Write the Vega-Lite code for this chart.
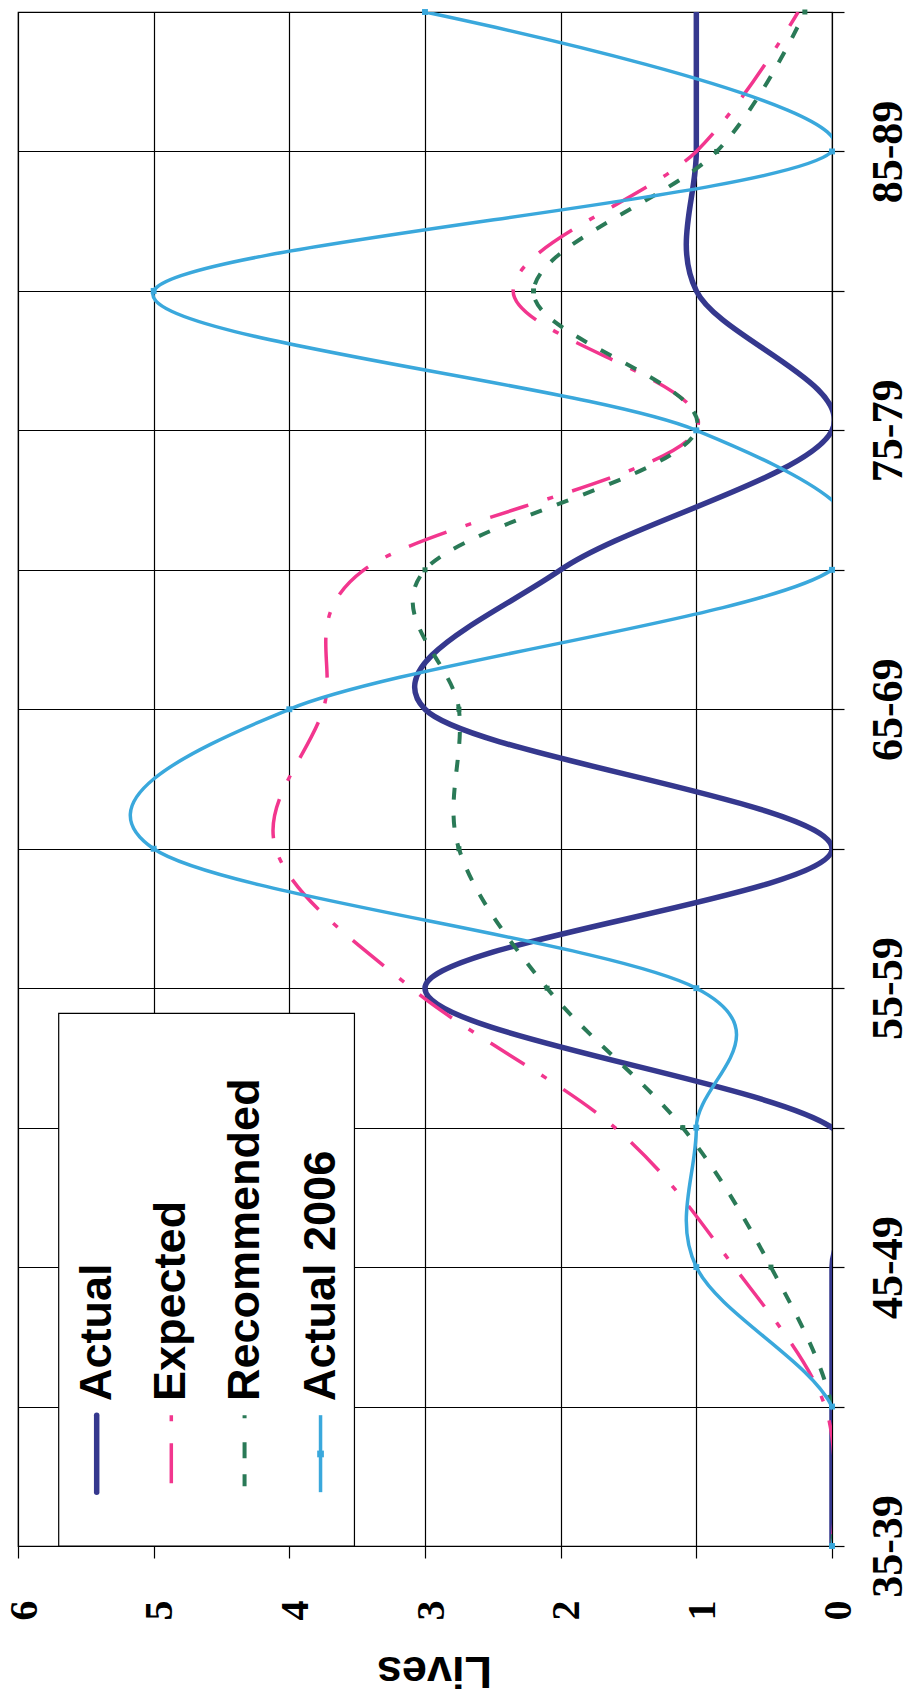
{
  "$schema": "https://vega.github.io/schema/vega-lite/v6.json",
  "width": 814,
  "height": 1534,
  "autosize": {"type": "none"},
  "padding": {"left": 18, "top": 12, "right": 91, "bottom": 155},
  "background": "white",
  "config": {"view": {"stroke": "black", "strokeWidth": 1.2}},
  "data": {
    "values": [
      {"series": "Actual", "age": 35, "lives": 0},
      {"series": "Actual", "age": 40, "lives": 0},
      {"series": "Actual", "age": 45, "lives": 0},
      {"series": "Actual", "age": 50, "lives": 0},
      {"series": "Actual", "age": 55, "lives": 3},
      {"series": "Actual", "age": 60, "lives": 0},
      {"series": "Actual", "age": 65, "lives": 3},
      {"series": "Actual", "age": 70, "lives": 2},
      {"series": "Actual", "age": 75, "lives": 0},
      {"series": "Actual", "age": 80, "lives": 1},
      {"series": "Actual", "age": 85, "lives": 1},
      {"series": "Actual", "age": 90, "lives": 1},
      {"series": "Expected", "age": 35, "lives": 0},
      {"series": "Expected", "age": 40, "lives": 0.05},
      {"series": "Expected", "age": 45, "lives": 0.72},
      {"series": "Expected", "age": 50, "lives": 1.6},
      {"series": "Expected", "age": 55, "lives": 3.1},
      {"series": "Expected", "age": 60, "lives": 4.1},
      {"series": "Expected", "age": 65, "lives": 3.75},
      {"series": "Expected", "age": 70, "lives": 3.45},
      {"series": "Expected", "age": 75, "lives": 1.0},
      {"series": "Expected", "age": 80, "lives": 2.35},
      {"series": "Expected", "age": 85, "lives": 1.0},
      {"series": "Expected", "age": 90, "lives": 0.25},
      {"series": "Recommended", "age": 35, "lives": 0},
      {"series": "Recommended", "age": 40, "lives": 0},
      {"series": "Recommended", "age": 45, "lives": 0.45},
      {"series": "Recommended", "age": 50, "lives": 1.1},
      {"series": "Recommended", "age": 55, "lives": 2.1},
      {"series": "Recommended", "age": 60, "lives": 2.75},
      {"series": "Recommended", "age": 65, "lives": 2.75},
      {"series": "Recommended", "age": 70, "lives": 3.0},
      {"series": "Recommended", "age": 75, "lives": 1.0},
      {"series": "Recommended", "age": 80, "lives": 2.2},
      {"series": "Recommended", "age": 85, "lives": 0.85},
      {"series": "Recommended", "age": 90, "lives": 0.2},
      {"series": "Actual 2006", "age": 35, "lives": 0},
      {"series": "Actual 2006", "age": 40, "lives": 0},
      {"series": "Actual 2006", "age": 45, "lives": 1},
      {"series": "Actual 2006", "age": 50, "lives": 1},
      {"series": "Actual 2006", "age": 55, "lives": 1},
      {"series": "Actual 2006", "age": 60, "lives": 5},
      {"series": "Actual 2006", "age": 65, "lives": 4},
      {"series": "Actual 2006", "age": 70, "lives": 0},
      {"series": "Actual 2006", "age": 75, "lives": 1},
      {"series": "Actual 2006", "age": 80, "lives": 5},
      {"series": "Actual 2006", "age": 85, "lives": 0},
      {"series": "Actual 2006", "age": 90, "lives": 3}
    ]
  },
  "layer": [
    {
      "transform": [{"filter": "datum.series === 'Actual'"}],
      "mark": {"type": "line", "interpolate": "cardinal", "clip": true, "color": "#35388E", "strokeWidth": 5.5},
      "encoding": {
        "x": {
          "field": "lives", "type": "quantitative",
          "scale": {"domain": [0, 6], "reverse": true, "nice": false, "zero": false},
          "axis": {
            "orient": "bottom", "title": "Lives", "values": [0, 1, 2, 3, 4, 5, 6], "format": "d",
            "grid": true, "gridColor": "black", "gridWidth": 1.2, "gridOpacity": 1,
            "domain": false, "ticks": true, "tickColor": "black", "tickSize": 12, "tickWidth": 1.2,
            "labelAngle": 270, "labelAlign": "right", "labelBaseline": "middle", "labelOffset": 6,
            "labelFont": "Liberation Serif", "labelFontWeight": "bold", "labelFontSize": 40,
            "labelColor": "black", "labelPadding": 42, "labelFlush": false, "labelOverlap": false,
            "titleFont": "Liberation Sans", "titleFontWeight": "bold", "titleFontSize": 45,
            "titleColor": "black", "titleAngle": 180, "titleX": 416, "titleY": 124,
            "titleAlign": "center", "titleBaseline": "middle"
          }
        },
        "y": {
          "field": "age", "type": "quantitative",
          "scale": {"domain": [35, 90], "nice": false, "zero": false},
          "axis": {
            "orient": "right", "title": null,
            "values": [35, 40, 45, 50, 55, 60, 65, 70, 75, 80, 85, 90],
            "labelExpr": "datum.value % 10 == 5 ? datum.value + '-' + (datum.value + 4) : ''",
            "grid": true, "gridColor": "black", "gridWidth": 1.2, "gridOpacity": 1,
            "domain": false, "ticks": true, "tickColor": "black", "tickSize": 12, "tickWidth": 1.2,
            "labelAngle": 270, "labelAlign": "center", "labelBaseline": "top",
            "labelFont": "Liberation Serif", "labelFontWeight": "bold", "labelFontSize": 44,
            "labelColor": "black", "labelPadding": 22, "labelFlush": false, "labelOverlap": false
          }
        },
        "order": {"field": "age", "type": "quantitative"}
      }
    },
    {
      "transform": [{"filter": "datum.series === 'Expected'"}],
      "mark": {"type": "line", "interpolate": "cardinal", "clip": true, "color": "#F2368E", "strokeWidth": 3.5, "strokeDash": [40, 20, 6, 20]},
      "encoding": {
        "x": {"field": "lives", "type": "quantitative"},
        "y": {"field": "age", "type": "quantitative"},
        "order": {"field": "age", "type": "quantitative"}
      }
    },
    {
      "transform": [{"filter": "datum.series === 'Recommended'"}],
      "mark": {"type": "line", "interpolate": "cardinal", "clip": true, "color": "#2A7A57", "strokeWidth": 4, "strokeDash": [12, 16]},
      "encoding": {
        "x": {"field": "lives", "type": "quantitative"},
        "y": {"field": "age", "type": "quantitative"},
        "order": {"field": "age", "type": "quantitative"}
      }
    },
    {
      "transform": [{"filter": "datum.series === 'Recommended'"}],
      "mark": {"type": "square", "size": 25, "color": "#2A7A57", "opacity": 1},
      "encoding": {
        "x": {"field": "lives", "type": "quantitative"},
        "y": {"field": "age", "type": "quantitative"}
      }
    },
    {
      "transform": [{"filter": "datum.series === 'Actual 2006'"}],
      "mark": {"type": "line", "interpolate": "cardinal", "clip": true, "color": "#3AA8DC", "strokeWidth": 3.5},
      "encoding": {
        "x": {"field": "lives", "type": "quantitative"},
        "y": {"field": "age", "type": "quantitative"},
        "order": {"field": "age", "type": "quantitative"}
      }
    },
    {
      "transform": [{"filter": "datum.series === 'Actual 2006'"}],
      "mark": {"type": "square", "size": 35, "color": "#3AA8DC", "opacity": 1},
      "encoding": {
        "x": {"field": "lives", "type": "quantitative"},
        "y": {"field": "age", "type": "quantitative"}
      }
    },
    {
      "data": {"values": [{}]},
      "mark": {"type": "rect", "fill": "white", "stroke": "black", "strokeWidth": 1.2},
      "encoding": {"x": {"datum": 5.7}, "x2": {"datum": 3.52}, "y": {"datum": 54.1}, "y2": {"datum": 35}}
    },
    {
      "data": {"values": [{}]},
      "mark": {"type": "rule", "color": "#35388E", "strokeWidth": 5.5, "strokeCap": "round"},
      "encoding": {"x": {"datum": 5.42}, "y": {"datum": 39.69}, "y2": {"datum": 36.93}}
    },
    {
      "data": {"values": [{}]},
      "mark": {"type": "rule", "color": "#F2368E", "strokeWidth": 3.5, "strokeDash": [6, 22, 40, 22]},
      "encoding": {"x": {"datum": 4.87}, "y": {"datum": 39.69}, "y2": {"datum": 36.93}}
    },
    {
      "data": {"values": [{}]},
      "mark": {"type": "rule", "color": "#2A7A57", "strokeWidth": 4, "strokeDash": [3, 24, 16, 16, 12, 20]},
      "encoding": {"x": {"datum": 4.33}, "y": {"datum": 39.69}, "y2": {"datum": 36.93}}
    },
    {
      "data": {"values": [{}]},
      "mark": {"type": "rule", "color": "#3AA8DC", "strokeWidth": 3.5},
      "encoding": {"x": {"datum": 3.77}, "y": {"datum": 39.69}, "y2": {"datum": 36.93}}
    },
    {
      "data": {"values": [{}]},
      "mark": {"type": "square", "size": 45, "color": "#3AA8DC", "opacity": 1},
      "encoding": {"x": {"datum": 3.77}, "y": {"datum": 38.3}}
    },
    {
      "data": {"values": [{}]},
      "mark": {"type": "text", "text": "Actual", "angle": 270, "align": "left", "baseline": "middle", "font": "Liberation Sans", "fontWeight": "bold", "fontSize": 45, "color": "black"},
      "encoding": {"x": {"datum": 5.42}, "y": {"datum": 40.2}}
    },
    {
      "data": {"values": [{}]},
      "mark": {"type": "text", "text": "Expected", "angle": 270, "align": "left", "baseline": "middle", "font": "Liberation Sans", "fontWeight": "bold", "fontSize": 45, "color": "black"},
      "encoding": {"x": {"datum": 4.87}, "y": {"datum": 40.2}}
    },
    {
      "data": {"values": [{}]},
      "mark": {"type": "text", "text": "Recommended", "angle": 270, "align": "left", "baseline": "middle", "font": "Liberation Sans", "fontWeight": "bold", "fontSize": 45, "color": "black"},
      "encoding": {"x": {"datum": 4.33}, "y": {"datum": 40.2}}
    },
    {
      "data": {"values": [{}]},
      "mark": {"type": "text", "text": "Actual 2006", "angle": 270, "align": "left", "baseline": "middle", "font": "Liberation Sans", "fontWeight": "bold", "fontSize": 45, "color": "black"},
      "encoding": {"x": {"datum": 3.77}, "y": {"datum": 40.2}}
    }
  ]
}
